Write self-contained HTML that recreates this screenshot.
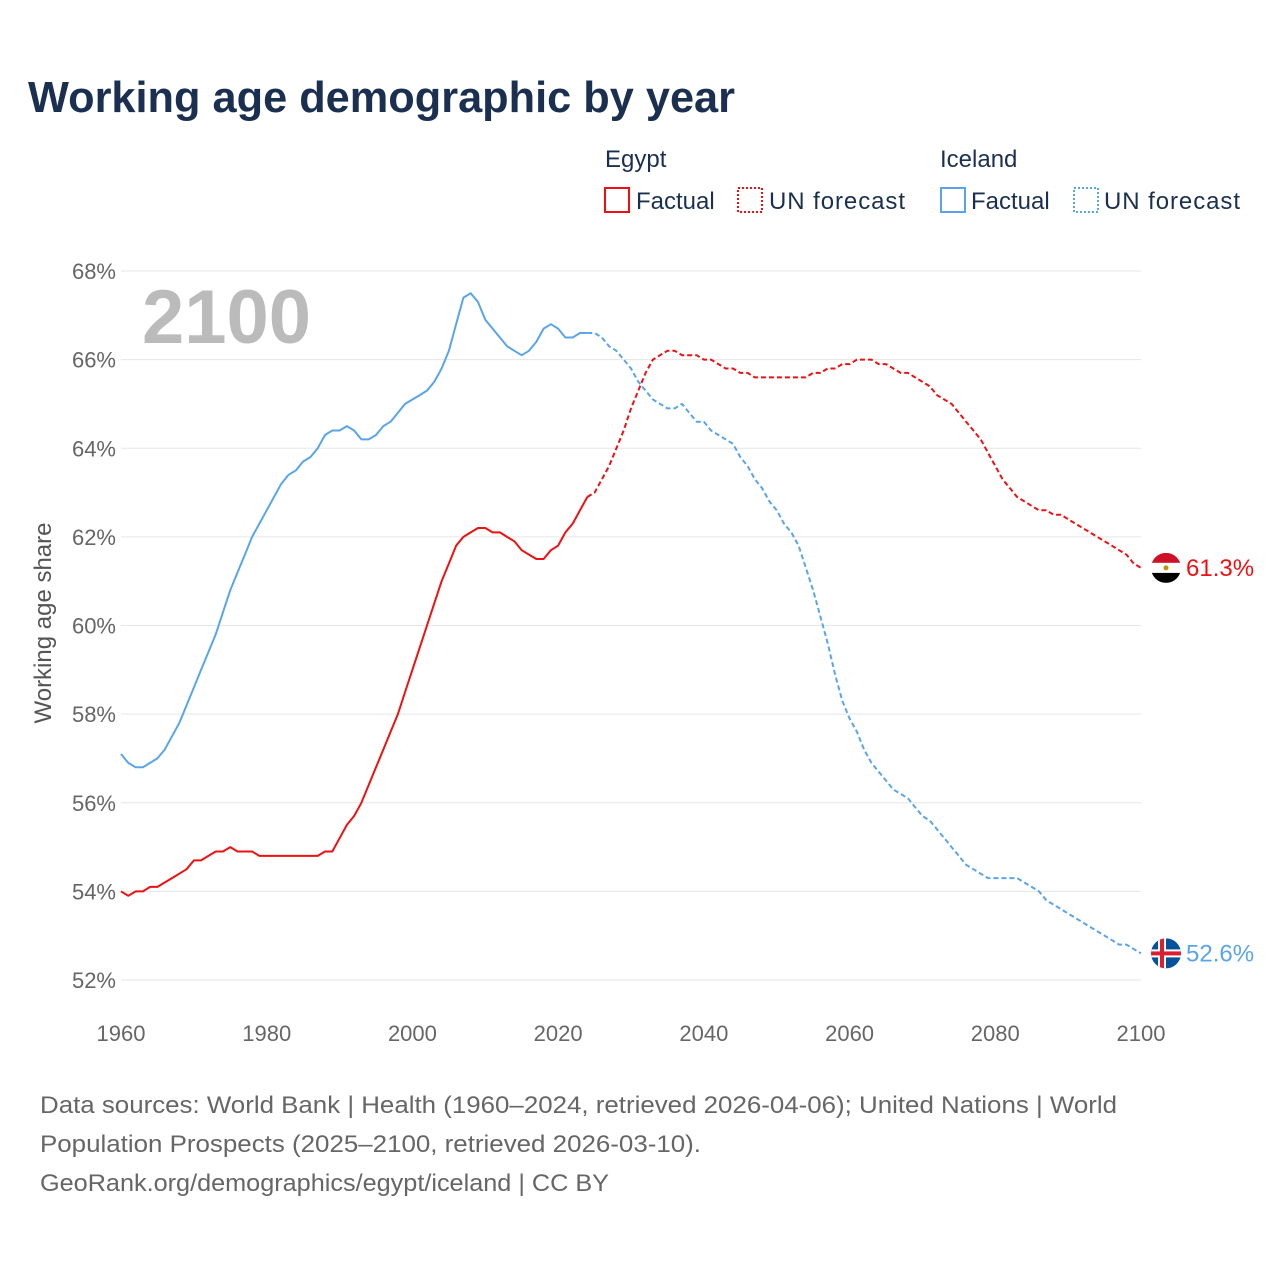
<!DOCTYPE html>
<html><head><meta charset="utf-8"><style>
body{margin:0;background:#fff;font-family:"Liberation Sans",sans-serif;}
#wrap{position:relative;width:1280px;height:1280px;overflow:hidden;}
</style></head><body>
<div id="wrap">
<svg id="svg" width="1280" height="1280" style="position:absolute;left:0;top:0">
<text x="28" y="112" font-size="44" font-weight="bold" fill="#1b3050" textLength="707" lengthAdjust="spacingAndGlyphs">Working age demographic by year</text>
<g font-size="24" fill="#1b3050">
<text x="605" y="167">Egypt</text>
<rect x="605" y="188" width="24" height="24" fill="none" stroke="#ee1111" stroke-width="2"/>
<text x="636" y="209">Factual</text>
<rect x="738" y="188" width="24" height="24" fill="none" stroke="#ee1111" stroke-width="2" stroke-dasharray="2,2"/>
<text x="769" y="209" textLength="136">UN forecast</text>
<text x="940" y="167">Iceland</text>
<rect x="941" y="188" width="24" height="24" fill="none" stroke="#5aa5ea" stroke-width="2"/>
<text x="971" y="209">Factual</text>
<rect x="1074" y="188" width="24" height="24" fill="none" stroke="#5aa5ea" stroke-width="2" stroke-dasharray="2,2"/>
<text x="1104" y="209" textLength="136">UN forecast</text>
</g>
<text x="142" y="343" font-size="76" font-weight="bold" fill="#bbbbbb">2100</text>
<text transform="translate(51,623) rotate(-90)" text-anchor="middle" font-size="24" fill="#555">Working age share</text>
<g id="grid"></g><g id="lines"></g><g id="flags"></g>
<g font-size="24" fill="#666">
<text x="40" y="1113" textLength="1077" lengthAdjust="spacingAndGlyphs">Data sources: World Bank | Health (1960–2024, retrieved 2026-04-06); United Nations | World</text>
<text x="40" y="1152" textLength="661" lengthAdjust="spacingAndGlyphs">Population Prospects (2025–2100, retrieved 2026-03-10).</text>
<text x="40" y="1191" textLength="569" lengthAdjust="spacingAndGlyphs">GeoRank.org/demographics/egypt/iceland | CC BY</text>
</g>
</svg></div>
<script>
const yTicks=[52,54,56,58,60,62,64,66,68];
const xTicks=[1960,1980,2000,2020,2040,2060,2080,2100];
const egyptFactual=[54.0,53.9,54.0,54.0,54.1,54.1,54.2,54.3,54.4,54.5,54.7,54.7,54.8,54.9,54.9,55.0,54.9,54.9,54.9,54.8,54.8,54.8,54.8,54.8,54.8,54.8,54.8,54.8,54.9,54.9,55.2,55.5,55.7,56.0,56.4,56.8,57.2,57.6,58.0,58.5,59.0,59.5,60.0,60.5,61.0,61.4,61.8,62.0,62.1,62.2,62.2,62.1,62.1,62.0,61.9,61.7,61.6,61.5,61.5,61.7,61.8,62.1,62.3,62.6,62.9];
const egyptForecast=[62.9,63.0,63.3,63.6,64.0,64.4,64.9,65.3,65.7,66.0,66.1,66.2,66.2,66.1,66.1,66.1,66.0,66.0,65.9,65.8,65.8,65.7,65.7,65.6,65.6,65.6,65.6,65.6,65.6,65.6,65.6,65.7,65.7,65.8,65.8,65.9,65.9,66.0,66.0,66.0,65.9,65.9,65.8,65.7,65.7,65.6,65.5,65.4,65.2,65.1,65.0,64.8,64.6,64.4,64.2,63.9,63.6,63.3,63.1,62.9,62.8,62.7,62.6,62.6,62.5,62.5,62.4,62.3,62.2,62.1,62.0,61.9,61.8,61.7,61.6,61.4,61.3];
const icelandFactual=[57.1,56.9,56.8,56.8,56.9,57.0,57.2,57.5,57.8,58.2,58.6,59.0,59.4,59.8,60.3,60.8,61.2,61.6,62.0,62.3,62.6,62.9,63.2,63.4,63.5,63.7,63.8,64.0,64.3,64.4,64.4,64.5,64.4,64.2,64.2,64.3,64.5,64.6,64.8,65.0,65.1,65.2,65.3,65.5,65.8,66.2,66.8,67.4,67.5,67.3,66.9,66.7,66.5,66.3,66.2,66.1,66.2,66.4,66.7,66.8,66.7,66.5,66.5,66.6,66.6];
const icelandForecast=[66.6,66.6,66.5,66.3,66.2,66.0,65.8,65.5,65.3,65.1,65.0,64.9,64.9,65.0,64.8,64.6,64.6,64.4,64.3,64.2,64.1,63.8,63.6,63.3,63.1,62.8,62.6,62.3,62.1,61.8,61.3,60.8,60.2,59.6,58.9,58.3,57.9,57.6,57.2,56.9,56.7,56.5,56.3,56.2,56.1,55.9,55.7,55.6,55.4,55.2,55.0,54.8,54.6,54.5,54.4,54.3,54.3,54.3,54.3,54.3,54.2,54.1,54.0,53.8,53.7,53.6,53.5,53.4,53.3,53.2,53.1,53.0,52.9,52.8,52.8,52.7,52.6];
const NS="http://www.w3.org/2000/svg";
const X=y=>121+(y-1960)*(1020/140);
const Y=v=>980-(v-52)*(709/16);
function mk(t,a,p){const e=document.createElementNS(NS,t);for(const k in a)e.setAttribute(k,a[k]);p.appendChild(e);return e;}
const grid=document.getElementById('grid');
yTicks.forEach(v=>{
 const l=mk('line',{x1:121,x2:1141,y1:Y(v),y2:Y(v),stroke:'#e6e6e6','stroke-width':1},grid);
 
 
 const t=mk('text',{x:116,y:Y(v)+8,'text-anchor':'end','font-size':22,fill:'#666'},grid);t.textContent=v+'%';
 
 
});
xTicks.forEach(v=>{
 const t=mk('text',{x:X(v),y:1041,'text-anchor':'middle','font-size':22,fill:'#666'},grid);t.textContent=v;
 
 
});
const lines=document.getElementById('lines');
function draw(arr,start,color,dash,name){
 const d=arr.map((v,i)=>(i?'L':'M')+X(start+i).toFixed(1)+','+Y(v).toFixed(1)).join('');
 const p=mk('path',{d:d,fill:'none',stroke:color,'stroke-width':2,'stroke-dasharray':dash,'stroke-linejoin':'round'},lines);
 
 
}
draw(egyptFactual,1960,'#ee1111','none','egypt-factual-line');
draw(egyptForecast,2024,'#ee1111','5,3','egypt-forecast-line');
draw(icelandFactual,1960,'#5aa5ea','none','iceland-factual-line');
draw(icelandForecast,2024,'#5aa5ea','5,3','iceland-forecast-line');
const flags=document.getElementById('flags');
const defs=mk('defs',{},flags);
function flag(v,id,kind,color,name){
 const cy=Y(v),cx=1166,r=15;
 const cp=mk('clipPath',{id:id},defs);mk('circle',{cx:cx,cy:cy,r:r},cp);
 const g=mk('g',{'clip-path':'url(#'+id+')'},flags);
 
 
 if(kind==='eg'){
  mk('rect',{x:cx-r,y:cy-r,width:2*r,height:10,fill:'#ce1126'},g);
  mk('rect',{x:cx-r,y:cy-5,width:2*r,height:10,fill:'#fff'},g);
  mk('rect',{x:cx-r,y:cy+5,width:2*r,height:10,fill:'#000'},g);
  mk('circle',{cx:cx,cy:cy,r:2.5,fill:'#c09300'},g);
 }else{
  mk('rect',{x:cx-r,y:cy-r,width:2*r,height:2*r,fill:'#02529c'},g);
  mk('rect',{x:cx-r,y:cy-4,width:2*r,height:8,fill:'#fff'},g);
  mk('rect',{x:cx-8,y:cy-r,width:8,height:2*r,fill:'#fff'},g);
  mk('rect',{x:cx-r,y:cy-2,width:2*r,height:4,fill:'#dc1e35'},g);
  mk('rect',{x:cx-6,y:cy-r,width:4,height:2*r,fill:'#dc1e35'},g);
 }
 const t=mk('text',{x:1186,y:cy+8,'font-size':24,fill:color},flags);t.textContent=v.toFixed(1)+'%';
 
 
}
flag(egyptForecast[egyptForecast.length-1],'cE','eg','#ee1111','egypt');
flag(icelandForecast[icelandForecast.length-1],'cI','is','#5aa5ea','iceland');
</script>
</body></html>
